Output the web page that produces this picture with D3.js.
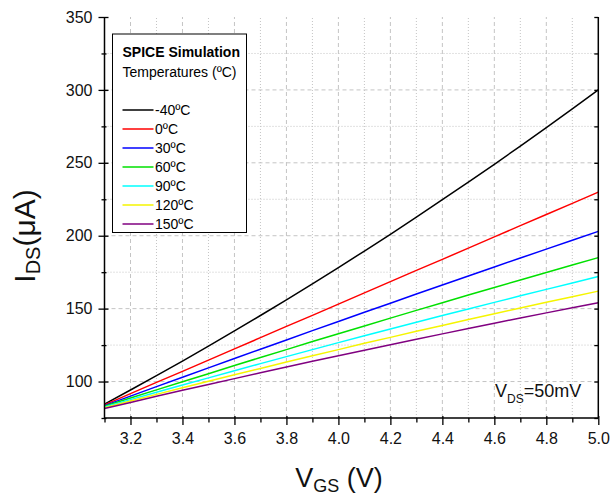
<!DOCTYPE html>
<html>
<head>
<meta charset="utf-8">
<script src="https://cdn.jsdelivr.net/npm/d3@7"></script>
<style>
  body { margin: 0; background: #fff; }
  svg { display: block; font-family: Arial, 'Liberation Sans', sans-serif; }
</style>
</head>
<body>
<svg id="chart" width="612" height="497"></svg>
<script>
// Data
const vgs = [3.1, 3.2, 3.3, 3.4, 3.5, 3.6, 3.7, 3.8, 3.9, 4.0, 4.1, 4.2, 4.3, 4.4, 4.5, 4.6, 4.7, 4.8, 4.9, 5.0];
const idsM40 = [84.5, 94.2, 104.0, 114.0, 124.3, 134.7, 145.3, 156.0, 167.0, 178.2, 189.5, 201.0, 212.7, 224.7, 236.7, 249.0, 261.5, 274.1, 287.0, 300.0];
const ids0   = [84.0, 91.7, 99.4, 107.0, 114.7, 122.4, 130.1, 137.8, 145.4, 153.1, 160.8, 168.5, 176.2, 183.8, 191.5, 199.2, 206.9, 214.6, 222.2, 229.9];
const ids30  = [83.5, 90.0, 96.5, 102.9, 109.4, 115.8, 122.2, 128.5, 134.9, 141.2, 147.5, 153.7, 160.0, 166.2, 172.4, 178.6, 184.7, 190.8, 196.9, 203.0];
const ids60  = [83.0, 88.7, 94.3, 99.9, 105.4, 111.0, 116.5, 121.9, 127.4, 132.8, 138.1, 143.5, 148.8, 154.0, 159.3, 164.5, 169.7, 174.8, 179.9, 185.0];
const ids90  = [82.5, 87.6, 92.6, 97.6, 102.5, 107.4, 112.3, 117.1, 121.9, 126.7, 131.4, 136.0, 140.7, 145.3, 149.8, 154.3, 158.8, 163.2, 167.6, 172.0];
const ids120 = [82.0, 86.6, 91.2, 95.7, 100.2, 104.7, 109.0, 113.4, 117.7, 121.9, 126.2, 130.3, 134.5, 138.5, 142.5, 146.5, 150.5, 154.4, 158.2, 162.0];
const ids150 = [81.5, 85.7, 89.9, 94.0, 98.0, 102.0, 106.0, 110.0, 113.9, 117.7, 121.5, 125.3, 129.0, 132.7, 136.4, 140.0, 143.6, 147.1, 150.6, 154.0];
const tempLabels = ['-40ºC', '0ºC', '30ºC', '60ºC', '90ºC', '120ºC', '150ºC'];
const xMajor = [3.2, 3.4, 3.6, 3.8, 4.0, 4.2, 4.4, 4.6, 4.8, 5.0];
const xMinor = [3.1, 3.3, 3.5, 3.7, 3.9, 4.1, 4.3, 4.5, 4.7, 4.9];
const yMajor = [100, 150, 200, 250, 300, 350];
const yMinor = [75, 125, 175, 225, 275, 325];

const seriesList = [idsM40, ids0, ids30, ids60, ids90, ids120, ids150];
const lineColors = ['#000000', '#ff0000', '#0000ff', '#00e000', '#00ffff', '#f5f500', '#800080'];

const svg = d3.select('#chart');
const x = d3.scaleLinear().domain([3.1, 5.0]).range([104.5, 598.3]);
const y = d3.scaleLinear().domain([75, 350]).range([418, 17]);

// Grid
const grid = svg.append('g').attr('stroke', '#c4c4c4').attr('stroke-width', 1);
xMajor.filter(v => v < 5.0).forEach(v => {
  grid.append('line').attr('x1', x(v)).attr('x2', x(v)).attr('y1', y(75)).attr('y2', y(350))
    .attr('stroke-dasharray', '4,3');
});
xMinor.filter(v => v > 3.1).forEach(v => {
  grid.append('line').attr('x1', x(v)).attr('x2', x(v)).attr('y1', y(75)).attr('y2', y(350))
    .attr('stroke-dasharray', '1,2');
});
yMajor.filter(v => v < 350).forEach(v => {
  grid.append('line').attr('x1', x(3.1)).attr('x2', x(5.0)).attr('y1', y(v)).attr('y2', y(v))
    .attr('stroke-dasharray', '4,3');
});
yMinor.filter(v => v > 75).forEach(v => {
  grid.append('line').attr('x1', x(3.1)).attr('x2', x(5.0)).attr('y1', y(v)).attr('y2', y(v))
    .attr('stroke-dasharray', '1,2');
});

// Curves
const line = d3.line().x((d, i) => x(vgs[i])).y(d => y(d));
seriesList.forEach((s, i) => {
  svg.append('path').datum(s)
    .attr('fill', 'none')
    .attr('stroke', lineColors[i])
    .attr('stroke-width', 1.5)
    .attr('d', line);
});

// Axes
const xAxisMajor = svg.append('g').attr('transform', `translate(0,${y(75)})`)
  .call(d3.axisBottom(x).tickValues(xMajor).tickSize(7).tickPadding(8).tickFormat(d3.format('.1f')));
const xAxisMinor = svg.append('g').attr('transform', `translate(0,${y(75)})`)
  .call(d3.axisBottom(x).tickValues(xMinor).tickSize(4.5).tickFormat(''));
const yAxisMajor = svg.append('g').attr('transform', `translate(${x(3.1)},0)`)
  .call(d3.axisLeft(y).tickValues(yMajor).tickSize(6).tickPadding(6));
const yAxisMinor = svg.append('g').attr('transform', `translate(${x(3.1)},0)`)
  .call(d3.axisLeft(y).tickValues(yMinor).tickSize(3).tickFormat(''));
const yAxisRight = svg.append('g').attr('transform', `translate(${x(5.0)},0)`)
  .call(d3.axisLeft(y).tickValues(yMajor.concat(yMinor)).tickSize(4).tickFormat(''));

[xAxisMajor, xAxisMinor, yAxisMajor, yAxisMinor, yAxisRight].forEach(g => {
  g.select('.domain').remove();
  g.selectAll('.tick line').attr('stroke', '#000').attr('stroke-width', 1.3);
  g.selectAll('.tick text').attr('font-size', 16).attr('fill', '#111')
    .attr('font-family', "Arial, 'Liberation Sans', sans-serif");
});
// small inward part of left/bottom major ticks
xAxisMajor.selectAll('.tick line').attr('y1', -2);
yAxisMajor.selectAll('.tick line').attr('x1', 4);
yAxisMinor.selectAll('.tick line').attr('x1', 2);

// Axis lines
svg.append('line').attr('x1', x(3.1)).attr('x2', x(5.0)).attr('y1', y(75)).attr('y2', y(75))
  .attr('stroke', '#000').attr('stroke-width', 1.5);
svg.append('line').attr('x1', x(3.1)).attr('x2', x(3.1)).attr('y1', y(75)).attr('y2', y(350))
  .attr('stroke', '#000').attr('stroke-width', 1.5);
svg.append('line').attr('x1', x(5.0)).attr('x2', x(5.0)).attr('y1', y(75)).attr('y2', y(350))
  .attr('stroke', '#000').attr('stroke-width', 1.5);

// Axis titles
const xt = svg.append('text').attr('x', 339).attr('y', 487).attr('text-anchor', 'middle')
  .attr('font-size', 27).attr('fill', '#111');
xt.append('tspan').text('V');
xt.append('tspan').attr('font-size', 18).attr('dy', 5).text('GS');
xt.append('tspan').attr('dy', -5).text(' (V)');

const yt = svg.append('text').attr('transform', 'translate(35,236) rotate(-90)')
  .attr('text-anchor', 'middle').attr('font-size', 30).attr('fill', '#111');
yt.append('tspan').text('I');
yt.append('tspan').attr('font-size', 20).attr('dy', 5).text('DS');
yt.append('tspan').attr('dy', -5).text('(μA)');

// V_DS annotation
const ann = svg.append('text').attr('x', 495).attr('y', 397).attr('font-size', 18).attr('fill', '#111');
ann.append('tspan').text('V');
ann.append('tspan').attr('font-size', 12).attr('dy', 6).text('DS');
ann.append('tspan').attr('dy', -6).text('=50mV');

// Legend
const lg = svg.append('g');
lg.append('rect').attr('x', 112.5).attr('y', 34).attr('width', 134).attr('height', 198.5)
  .attr('fill', '#fff').attr('stroke', '#000').attr('stroke-width', 1);
lg.append('text').attr('x', 122.5).attr('y', 57).attr('font-size', 14).attr('font-weight', 'bold')
  .attr('fill', '#000').text('SPICE Simulation');
lg.append('text').attr('x', 122.5).attr('y', 76.5).attr('font-size', 14)
  .attr('fill', '#000').text('Temperatures (ºC)');
const rowY = d3.scaleLinear().domain([0, 6]).range([110, 224]);
tempLabels.forEach((t, i) => {
  lg.append('line').attr('x1', 122.5).attr('x2', 153.5).attr('y1', rowY(i)).attr('y2', rowY(i))
    .attr('stroke', lineColors[i]).attr('stroke-width', 1.5);
  lg.append('text').attr('x', 155).attr('y', rowY(i) + 5).attr('font-size', 14)
    .attr('fill', '#000').text(t);
});
</script>
</body>
</html>
